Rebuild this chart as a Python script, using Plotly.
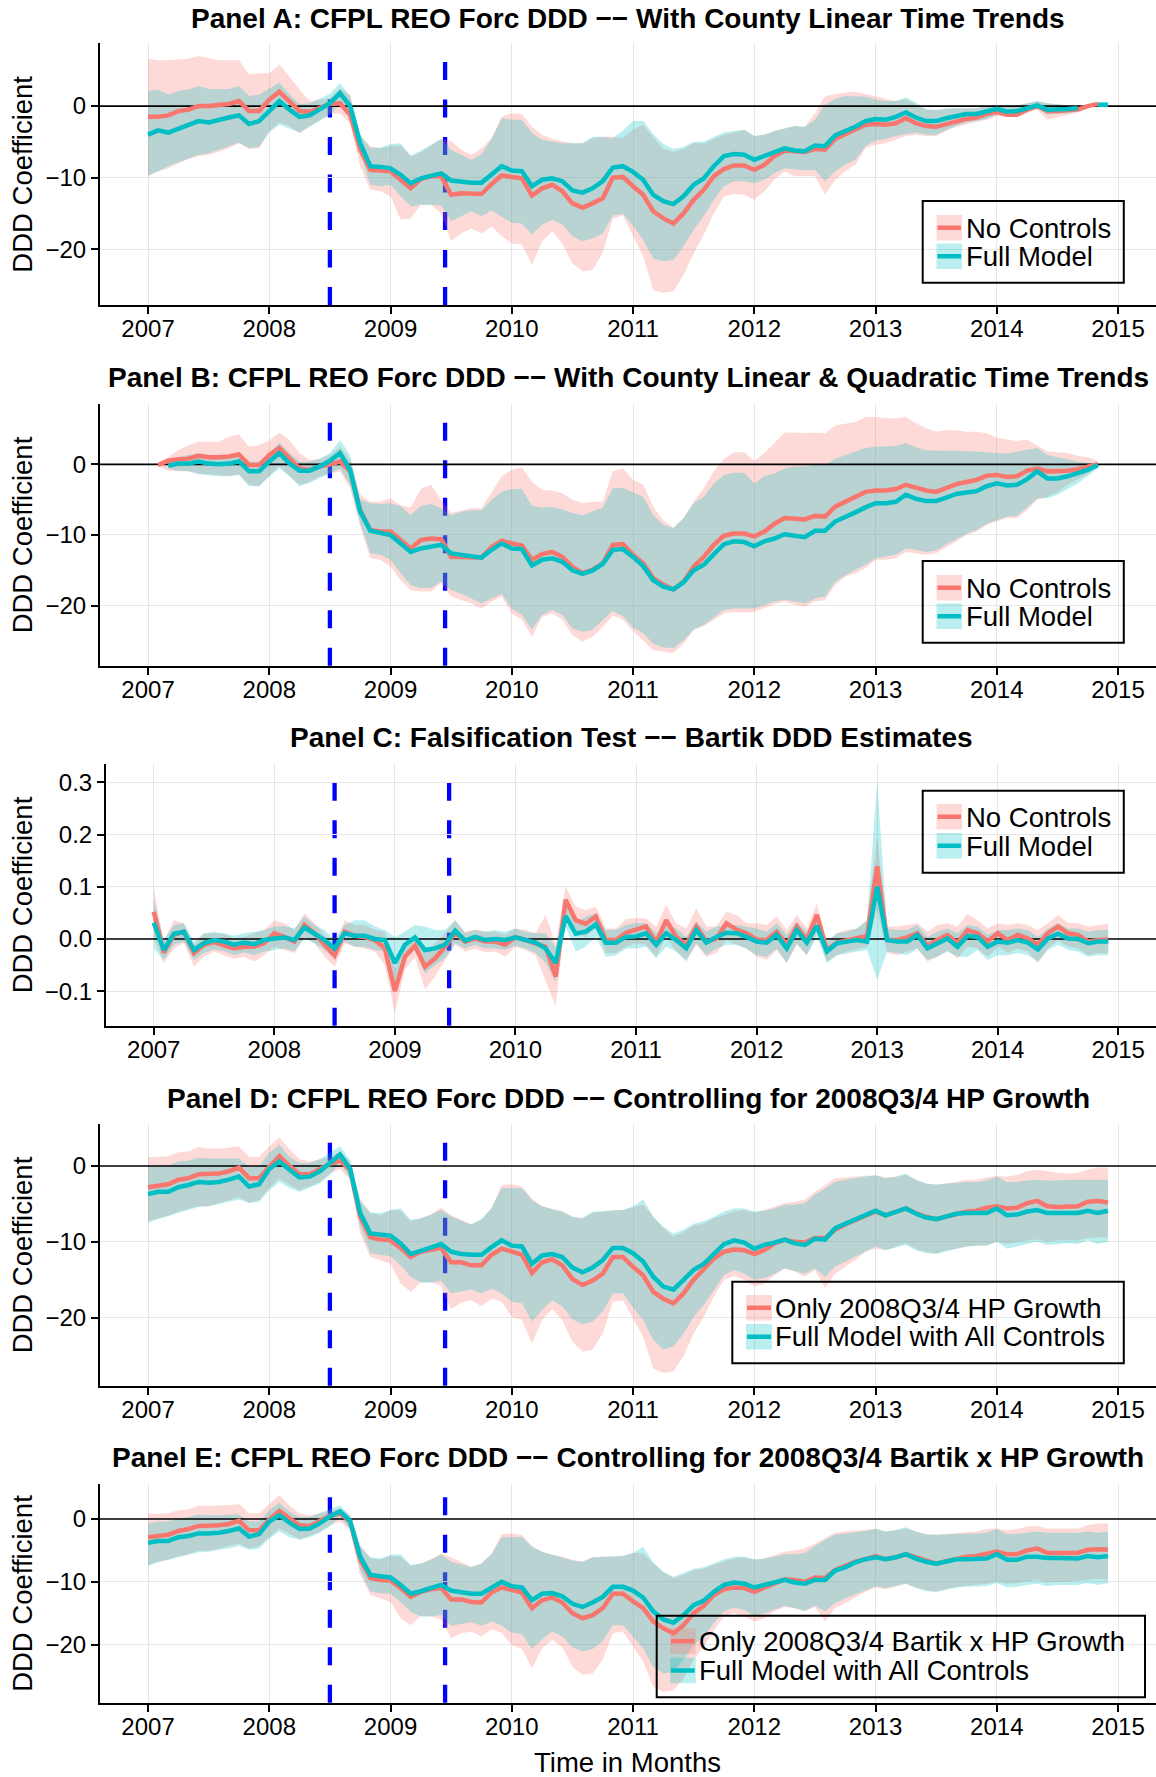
import plotly.graph_objects as go

W, H = 1156, 1777
FONT = "Liberation Sans"
RED = "#F8766D"
CYAN = "#00BFC4"
RED_FILL = "rgba(248,118,109,0.27)"
CYAN_FILL = "rgba(0,191,196,0.27)"

N_MONTHS = 96
x_dates = [2007 + m / 12 for m in range(N_MONTHS)]
x_ticks = list(range(2007, 2016))
x_ticklabels = [str(y) for y in x_ticks]
event_lines = [2008.5, 2009.45]
X_RANGE = [2006.604, 2015.313]
REFERENCE_LEVEL = 0

# ---------------- Panel A ----------------
A_red = [-1.5, -1.5, -1.3, -0.7, -0.5, 0.0, 0.0, 0.1, 0.3, 0.7, -0.7, -0.7, 0.9,
         2.0, 0.6, -0.7, -0.8, -0.3, 0.3, 0.4, -1.2, -6.1, -8.9, -9.0, -9.1,
         -10.3, -11.5, -10.2, -9.8, -9.8, -12.4, -12.2, -12.3, -12.3, -10.9, -9.7, -9.9,
         -10.1, -12.5, -11.5, -11.0, -11.9, -13.6, -14.2, -13.6, -12.9, -10.0, -9.9, -11.2,
         -12.4, -14.7, -15.7, -16.4, -15.0, -13.1, -11.7, -9.8, -8.8, -8.3, -8.3, -8.9,
         -8.2, -7.0, -6.2, -6.3, -6.4, -6.0, -6.1, -4.6, -3.9, -3.2, -2.6, -2.5,
         -2.6, -2.4, -1.7, -2.4, -2.8, -2.9, -2.5, -2.1, -1.8, -1.6, -1.1, -0.8,
         -1.2, -1.2, -0.5, 0.0, -0.7, -0.7, -0.6, -0.5, 0.0, 0.3, None]
A_cyan = [-4.0, -3.4, -3.7, -3.2, -2.7, -2.1, -2.3, -1.9, -1.6, -1.3, -2.5, -2.1, -0.6,
          0.7, -0.5, -1.5, -1.3, -0.5, 0.4, 1.8, 0.0, -5.2, -8.4, -8.5, -8.7,
          -9.6, -10.8, -10.1, -9.7, -9.4, -10.4, -10.6, -10.7, -10.7, -9.6, -8.4, -9.0,
          -9.1, -11.2, -10.3, -10.1, -10.5, -11.8, -12.1, -11.5, -10.5, -8.6, -8.4, -9.2,
          -10.3, -12.4, -13.3, -13.7, -12.6, -11.0, -10.1, -8.4, -7.0, -6.7, -6.8, -7.5,
          -7.0, -6.5, -5.9, -6.2, -6.3, -5.5, -5.6, -4.1, -3.5, -2.9, -2.1, -1.8,
          -1.9, -1.5, -0.9, -1.6, -2.1, -2.1, -1.7, -1.4, -1.1, -1.1, -0.7, -0.4,
          -0.8, -0.7, -0.3, 0.1, -0.5, -0.5, -0.4, -0.3, None, 0.2, 0.2]
A_red_hi = [6.6, 6.4, 6.4, 6.5, 6.6, 7.0, 6.7, 6.4, 6.4, 6.4, 4.4, 4.6, 4.6,
            5.8, 4.1, 2.3, 0.7, 0.9, 1.1, 2.5, 1.5, -4.2, -5.6, -5.9, -5.6,
            -5.5, -7.0, -6.5, -5.6, -4.6, -4.9, -6.1, -6.8, -5.9, -4.5, -1.5, -1.0,
            -1.1, -2.9, -4.0, -4.6, -4.9, -5.2, -5.2, -4.5, -4.3, -4.3, -4.5, -3.3,
            -2.6, -4.4, -6.0, -6.4, -6.0, -5.2, -5.2, -4.6, -4.0, -3.7, -3.3, -4.2,
            -4.0, -3.5, -3.1, -2.8, -2.9, -1.0, 1.4, 1.7, 1.9, 2.0, 1.7, 1.3,
            1.0, 0.7, 0.9, 0.2, -0.5, -0.6, -0.4, -0.3, -0.3, -0.3, 0.0, 0.1,
            0.0, 0.1, 0.4, 0.7, 0.4, 0.2, 0.1, 0.0, 0.2, 0.4, None]
A_red_lo = [-9.8, -9.1, -8.7, -8.0, -7.4, -7.0, -6.8, -6.4, -5.9, -5.2, -6.0, -5.9, -3.5,
            -2.3, -2.8, -3.8, -2.8, -1.9, -1.1, -1.0, -2.4, -8.4, -11.7, -11.9, -12.6,
            -15.9, -15.7, -13.8, -13.8, -15.0, -18.9, -17.8, -17.1, -17.8, -16.8, -18.2, -19.2,
            -19.3, -22.2, -18.9, -17.5, -19.2, -22.0, -23.1, -22.9, -20.5, -15.7, -15.3, -18.1,
            -21.0, -25.7, -26.1, -25.9, -23.6, -20.6, -18.0, -15.0, -12.6, -12.3, -12.4, -13.1,
            -11.9, -10.3, -9.1, -9.8, -9.8, -9.8, -12.4, -10.3, -9.1, -8.2, -5.9, -5.4,
            -5.2, -4.7, -4.2, -4.0, -4.2, -4.2, -3.5, -2.9, -2.5, -2.2, -1.9, -1.4,
            -1.5, -1.4, -0.9, -0.5, -1.9, -1.5, -1.2, -0.9, -0.3, 0.1, None]
A_cyan_hi = [2.1, 2.3, 1.6, 2.1, 2.3, 2.8, 2.4, 2.4, 2.4, 2.8, 1.4, 1.6, 2.4,
             3.3, 1.6, 0.3, 0.4, 1.0, 1.7, 3.2, 1.4, -3.9, -5.9, -5.8, -5.3,
             -5.2, -6.9, -6.2, -5.4, -4.6, -6.1, -6.8, -7.5, -6.7, -4.6, -1.7, -1.9,
             -1.9, -3.8, -4.7, -4.9, -5.2, -5.2, -5.2, -4.3, -4.3, -4.5, -3.4, -2.1,
             -2.1, -3.9, -5.3, -6.0, -5.7, -5.0, -5.0, -4.3, -3.7, -3.5, -3.3, -4.2,
             -4.0, -3.5, -3.1, -2.8, -2.9, -1.9, 0.2, 1.0, 1.4, 1.4, 1.3, 0.9,
             0.7, 0.7, 1.2, 0.5, -0.4, -0.5, -0.3, -0.3, -0.3, -0.3, 0.0, 0.1,
             0.0, 0.1, 0.4, 0.7, 0.4, 0.2, 0.1, 0.0, None, 0.5, 0.5]
A_cyan_lo = [-9.7, -9.1, -8.4, -7.9, -7.3, -6.8, -6.6, -6.1, -5.6, -5.1, -5.9, -5.7, -3.7,
             -2.6, -3.2, -3.7, -2.9, -2.1, -1.2, 0.4, -1.7, -6.6, -11.0, -11.2, -11.0,
             -12.6, -14.0, -13.8, -13.8, -13.9, -16.1, -15.4, -14.7, -15.4, -14.6, -15.4, -16.3,
             -16.4, -18.0, -16.6, -15.9, -16.6, -18.2, -18.9, -18.5, -17.8, -15.3, -15.1, -16.7,
             -18.7, -21.3, -21.7, -21.5, -19.6, -17.3, -15.4, -13.1, -11.2, -10.5, -10.5, -10.8,
             -10.3, -9.4, -8.7, -8.9, -9.0, -8.9, -10.5, -9.1, -8.2, -7.5, -5.6, -4.8,
             -4.6, -4.2, -3.9, -3.7, -4.0, -4.0, -3.3, -2.8, -2.3, -2.1, -1.8, -1.2,
             -1.4, -1.2, -0.7, -0.3, -1.2, -1.1, -1.0, -0.7, None, -0.1, -0.1]

# ---------------- Panel B ----------------
B_red = [None,
         -0.1, 0.5, 0.7, 0.8, 1.2, 1.0, 1.0, 1.1, 1.4, -0.1, -0.1, 1.3,
         2.3, 0.8, -0.6, -0.8, -0.3, 0.0, 0.4, -1.0, -6.5, -9.3, -9.5, -9.5,
         -10.7, -11.9, -10.7, -10.5, -10.6, -13.1, -13.1, -13.2, -13.2, -11.7, -10.8, -11.2,
         -11.5, -13.5, -12.7, -12.4, -13.1, -14.5, -15.4, -14.9, -14.0, -11.4, -11.3, -12.8,
         -14.0, -16.1, -17.0, -17.7, -16.6, -14.5, -13.1, -11.4, -10.1, -9.8, -9.8, -10.2,
         -9.5, -8.4, -7.6, -7.7, -7.8, -7.3, -7.4, -6.0, -5.3, -4.6, -3.9, -3.7,
         -3.7, -3.5, -2.9, -3.3, -3.7, -3.9, -3.3, -2.8, -2.5, -2.2, -1.6, -1.5,
         -1.8, -1.7, -0.9, -0.6, -1.0, -1.0, -0.9, -0.7, -0.4, 0.0, None]
B_cyan = [None, None,
          -0.2, 0.1, 0.1, 0.4, 0.1, 0.0, 0.1, 0.4, -1.0, -1.0, 0.4,
          1.6, 0.1, -0.9, -0.9, -0.3, 0.5, 1.6, -0.8, -6.7, -9.4, -9.7, -10.0,
          -11.2, -12.4, -11.9, -11.7, -11.4, -12.6, -12.8, -13.1, -13.2, -12.1, -11.2, -11.9,
          -12.0, -14.3, -13.5, -13.3, -13.8, -15.0, -15.5, -15.0, -14.1, -12.1, -12.0, -13.1,
          -14.4, -16.4, -17.3, -17.7, -16.7, -15.0, -14.2, -12.7, -11.3, -10.9, -11.0, -11.6,
          -10.9, -10.5, -9.9, -10.1, -10.3, -9.4, -9.4, -8.1, -7.5, -6.8, -6.1, -5.5,
          -5.5, -5.3, -4.3, -4.9, -5.2, -5.2, -4.7, -4.2, -4.0, -3.8, -3.1, -2.7,
          -3.0, -2.9, -2.1, -1.0, -2.0, -2.0, -1.7, -1.2, -0.8, -0.1, None]
B_red_hi = [None,
            0.1, 1.0, 2.0, 2.7, 3.2, 3.2, 3.2, 3.9, 4.2, 2.5, 2.7, 3.4,
            4.5, 3.4, 1.6, 0.6, 0.8, 1.3, 2.5, 0.6, -4.3, -5.3, -5.3, -4.8,
            -5.8, -6.1, -3.5, -2.9, -5.0, -6.9, -6.5, -6.2, -6.2, -3.9, -1.7, -0.8,
            -0.4, -2.5, -3.6, -3.7, -4.1, -5.0, -5.5, -5.3, -5.3, -1.0, -0.6, -2.2,
            -2.9, -6.0, -7.9, -9.0, -7.6, -5.3, -3.4, -1.0, 0.8, 1.7, 1.7, 0.5,
            1.6, 3.0, 4.5, 4.5, 4.4, 4.5, 4.4, 5.5, 5.7, 6.0, 6.7, 6.7,
            6.5, 6.5, 6.7, 5.8, 5.1, 4.6, 4.8, 4.8, 4.6, 4.6, 4.4, 3.8,
            3.5, 3.3, 3.5, 2.7, 1.8, 1.7, 1.6, 1.2, 1.0, 0.5, None]
B_red_lo = [None,
            -0.3, -0.9, -1.0, -1.0, -1.3, -1.4, -1.5, -1.7, -1.4, -2.9, -3.1, -1.7,
            -0.2, -1.7, -2.9, -2.5, -1.7, -1.3, -1.0, -3.4, -8.8, -13.3, -13.5, -14.5,
            -16.4, -17.8, -18.0, -18.0, -16.8, -18.7, -19.2, -19.7, -20.4, -19.4, -18.7, -21.1,
            -22.0, -24.4, -21.6, -21.1, -22.0, -24.2, -25.1, -24.4, -23.0, -21.4, -22.0, -23.6,
            -24.9, -26.3, -26.5, -26.7, -25.4, -23.4, -22.9, -22.0, -21.1, -20.9, -21.0, -20.9,
            -20.4, -19.8, -19.4, -19.9, -20.1, -19.4, -19.2, -17.1, -15.9, -15.4, -14.7, -13.5,
            -13.5, -13.3, -12.4, -12.6, -12.8, -12.6, -11.7, -10.9, -10.0, -9.5, -8.6, -8.1,
            -7.6, -7.6, -6.5, -5.0, -4.6, -3.9, -2.9, -2.2, -1.4, -0.3, None]
B_cyan_hi = [None, None,
             0.4, 1.0, 1.3, 1.6, 1.3, 1.2, 1.2, 1.5, 0.4, 0.4, 1.6,
             3.1, 1.6, 0.4, 0.4, 0.8, 1.6, 3.4, 1.3, -5.0, -5.5, -5.6, -5.5,
             -5.9, -7.2, -5.9, -5.6, -6.2, -7.2, -6.7, -6.5, -6.5, -5.0, -3.9, -3.5,
             -3.5, -5.9, -6.1, -6.0, -6.4, -6.9, -7.2, -6.7, -6.1, -3.4, -3.3, -4.0,
             -4.6, -7.2, -8.6, -9.0, -7.6, -5.5, -4.6, -2.7, -1.5, -1.2, -1.2, -2.7,
             -1.7, -1.3, -0.6, -0.3, -0.3, -0.1, -0.1, 0.8, 1.3, 1.8, 2.3, 2.5,
             2.5, 2.6, 3.0, 2.4, 2.0, 1.9, 1.9, 1.9, 1.9, 1.8, 1.7, 1.6,
             1.5, 1.8, 2.0, 2.3, 1.3, 1.0, 0.6, 0.4, 0.2, 0.2, None]
B_cyan_lo = [None, None,
             -0.6, -0.9, -1.0, -1.4, -1.5, -1.7, -1.7, -1.5, -3.1, -3.1, -1.7,
             -0.6, -1.7, -3.1, -2.6, -2.0, -1.3, -0.6, -2.9, -8.3, -12.6, -12.8, -13.5,
             -15.4, -17.1, -17.5, -17.5, -16.6, -17.8, -18.3, -19.0, -19.7, -19.0, -18.3, -20.4,
             -21.3, -23.4, -21.3, -20.6, -21.3, -23.2, -23.7, -23.4, -22.0, -20.7, -21.5, -23.1,
             -23.9, -25.4, -25.9, -26.0, -24.9, -23.4, -22.7, -21.6, -20.6, -20.4, -20.4, -20.4,
             -19.9, -19.4, -19.2, -19.4, -19.7, -19.0, -18.7, -16.6, -15.7, -14.9, -14.2, -13.3,
             -13.1, -12.8, -11.9, -12.1, -12.4, -12.2, -11.3, -10.6, -9.8, -9.3, -8.4, -7.9,
             -7.4, -7.3, -6.1, -4.8, -4.8, -4.3, -3.5, -2.7, -1.7, -0.6, None]

# ---------------- Panel C ----------------
C_red = [0.052, -0.026, 0.008, 0.014, -0.027, -0.011, -0.006, -0.011, -0.018, -0.015, -0.015, -0.008, 0.011,
         0.004, -0.005, 0.027, 0.011, -0.011, -0.032, 0.014, 0.006, 0.004, -0.002, -0.018, -0.100,
         -0.034, -0.013, -0.053, -0.037, -0.015, 0.012, -0.005, 0.001, -0.005, -0.005, -0.011, 0.004,
         -0.002, -0.008, -0.015, -0.072, 0.075, 0.036, 0.029, 0.043, -0.002, -0.002, 0.012, 0.018,
         0.024, -0.007, 0.036, 0.004, -0.011, 0.024, -0.005, 0.001, 0.030, 0.018, 0.011, -0.001,
         -0.002, 0.014, -0.011, 0.024, -0.002, 0.046, -0.021, -0.007, -0.002, 0.001, 0.006, 0.139,
         -0.002, -0.002, 0.003, 0.011, -0.013, -0.002, 0.008, -0.007, 0.017, 0.011, -0.005, 0.011,
         -0.002, 0.008, 0.001, -0.011, 0.011, 0.024, 0.011, 0.008, -0.005, -0.002, -0.001]
C_cyan = [0.031, -0.021, 0.010, 0.014, -0.021, -0.008, -0.002, -0.005, -0.011, -0.007, -0.010, -0.002, 0.001,
          0.003, -0.002, 0.022, 0.010, -0.002, -0.018, 0.011, 0.006, 0.006, 0.000, -0.002, -0.046,
          -0.011, 0.003, -0.021, -0.018, -0.011, 0.016, -0.003, 0.004, -0.002, 0.000, -0.002, 0.003,
          -0.002, -0.007, -0.018, -0.046, 0.044, 0.010, 0.014, 0.028, -0.007, -0.007, 0.004, 0.005,
          0.011, -0.011, 0.011, -0.002, -0.018, 0.017, -0.007, 0.004, 0.012, 0.011, 0.004, -0.005,
          -0.007, 0.008, -0.018, 0.017, -0.007, 0.025, -0.024, -0.008, -0.005, -0.002, -0.005, 0.100,
          -0.002, -0.005, -0.005, 0.008, -0.018, -0.008, 0.001, -0.015, 0.006, 0.004, -0.015, -0.005,
          -0.007, -0.002, -0.007, -0.020, 0.001, 0.010, 0.001, 0.000, -0.008, -0.005, -0.005]
C_red_hi = [0.097, -0.005, 0.036, 0.030, -0.011, 0.010, 0.011, 0.010, 0.001, 0.004, 0.011, 0.017, 0.036,
            0.030, 0.017, 0.049, 0.030, 0.008, -0.011, 0.036, 0.027, 0.027, 0.017, 0.014, -0.059,
            -0.011, 0.008, -0.024, -0.008, 0.011, 0.036, 0.014, 0.018, 0.014, 0.014, 0.008, 0.020,
            0.017, 0.011, 0.046, -0.011, 0.101, 0.062, 0.055, 0.062, 0.020, 0.020, 0.038, 0.040,
            0.039, 0.024, 0.065, 0.030, 0.020, 0.059, 0.024, 0.024, 0.052, 0.046, 0.030, 0.030,
            0.027, 0.043, 0.017, 0.046, 0.020, 0.068, -0.005, 0.011, 0.017, 0.020, 0.036, 0.196,
            0.024, 0.024, 0.027, 0.030, 0.014, 0.027, 0.030, 0.024, 0.048, 0.036, 0.020, 0.030,
            0.027, 0.030, 0.027, 0.017, 0.030, 0.046, 0.031, 0.030, 0.024, 0.027, 0.029]
C_red_lo = [0.004, -0.046, -0.018, -0.007, -0.053, -0.034, -0.024, -0.031, -0.038, -0.034, -0.043, -0.031, -0.015,
            -0.021, -0.027, 0.004, -0.008, -0.034, -0.053, -0.008, -0.015, -0.018, -0.024, -0.050, -0.142,
            -0.059, -0.035, -0.097, -0.072, -0.040, -0.011, -0.024, -0.018, -0.026, -0.024, -0.034, -0.015,
            -0.021, -0.031, -0.078, -0.129, 0.046, 0.011, 0.004, 0.020, -0.027, -0.027, -0.015, -0.008,
            -0.011, -0.034, 0.004, -0.024, -0.040, -0.011, -0.034, -0.027, -0.002, -0.011, -0.018, -0.034,
            -0.040, -0.021, -0.046, -0.011, -0.031, 0.011, -0.043, -0.031, -0.024, -0.020, -0.015, 0.055,
            -0.027, -0.031, -0.024, -0.018, -0.043, -0.034, -0.021, -0.037, -0.015, -0.018, -0.034, -0.015,
            -0.027, -0.018, -0.024, -0.046, -0.018, -0.002, -0.015, -0.018, -0.031, -0.027, -0.027]
C_cyan_hi = [0.075, -0.002, 0.027, 0.030, -0.005, 0.011, 0.014, 0.011, 0.006, 0.011, 0.014, 0.017, 0.024,
             0.025, 0.020, 0.043, 0.027, 0.017, -0.002, 0.027, 0.036, 0.036, 0.024, 0.017, 0.004,
             0.014, 0.027, 0.024, 0.017, 0.017, 0.036, 0.011, 0.017, 0.014, 0.017, 0.014, 0.020,
             0.014, 0.011, 0.011, -0.015, 0.075, 0.030, 0.043, 0.049, 0.017, 0.017, 0.027, 0.030,
             0.030, 0.011, 0.030, 0.020, 0.004, 0.033, 0.014, 0.024, 0.027, 0.027, 0.024, 0.020,
             0.014, 0.030, 0.008, 0.033, 0.014, 0.043, -0.005, 0.011, 0.014, 0.020, 0.036, 0.301,
             0.020, 0.017, 0.017, 0.027, 0.004, 0.014, 0.020, 0.011, 0.027, 0.024, 0.008, 0.017,
             0.017, 0.020, 0.017, 0.004, 0.020, 0.030, 0.020, 0.020, 0.014, 0.017, 0.017]
C_cyan_lo = [-0.018, -0.040, -0.011, -0.005, -0.040, -0.027, -0.020, -0.023, -0.031, -0.026, -0.031, -0.024, -0.021,
             -0.018, -0.024, 0.001, -0.008, -0.021, -0.037, -0.005, -0.015, -0.015, -0.021, -0.024, -0.097,
             -0.037, -0.021, -0.066, -0.050, -0.037, -0.008, -0.018, -0.011, -0.018, -0.018, -0.021, -0.013,
             -0.018, -0.027, -0.046, -0.082, 0.024, -0.024, -0.015, 0.004, -0.034, -0.031, -0.018, -0.018,
             -0.015, -0.037, -0.015, -0.024, -0.043, -0.008, -0.031, -0.018, -0.011, -0.011, -0.018, -0.031,
             -0.034, -0.018, -0.046, -0.008, -0.031, 0.004, -0.046, -0.031, -0.027, -0.024, -0.021, -0.078,
             -0.024, -0.027, -0.031, -0.018, -0.040, -0.034, -0.024, -0.034, -0.034, -0.021, -0.040, -0.031,
             -0.031, -0.027, -0.031, -0.043, -0.021, -0.011, -0.021, -0.024, -0.034, -0.031, -0.031]

# ---------------- Panel D ----------------
D_red = [-2.8, -2.6, -2.4, -1.8, -1.6, -1.1, -1.1, -1.0, -0.7, -0.2, -1.6, -1.6, -0.1,
         1.3, 0.0, -1.1, -1.1, -0.4, 0.3, 0.7, -0.5, -6.7, -9.4, -9.7, -9.8,
         -10.8, -12.0, -11.3, -11.0, -10.8, -12.7, -12.7, -13.1, -13.1, -11.7, -10.9, -11.3,
         -11.7, -14.1, -12.7, -12.3, -13.1, -14.9, -15.7, -15.1, -14.2, -12.0, -12.0, -13.3,
         -14.4, -16.6, -17.5, -18.1, -16.8, -15.0, -13.7, -12.2, -11.3, -11.0, -11.1, -11.6,
         -11.1, -10.2, -9.7, -10.0, -10.1, -9.5, -9.5, -8.4, -7.7, -7.1, -6.6, -6.0,
         -6.5, -6.1, -5.6, -6.2, -6.7, -7.0, -6.7, -6.3, -6.0, -5.9, -5.5, -5.3,
         -5.6, -5.5, -4.9, -4.6, -5.3, -5.4, -5.4, -5.3, -4.7, -4.6, -4.8]
D_cyan = [-3.7, -3.4, -3.4, -2.8, -2.5, -2.1, -2.2, -2.1, -1.8, -1.4, -2.7, -2.4, -0.4,
          0.6, -0.5, -1.5, -1.4, -0.7, 0.4, 1.5, -0.4, -6.2, -8.9, -9.0, -9.2,
          -10.2, -11.6, -11.2, -10.7, -10.3, -11.3, -11.6, -11.7, -11.7, -10.7, -9.8, -10.5,
          -10.6, -12.9, -11.8, -11.6, -12.0, -13.4, -14.0, -13.4, -12.4, -10.8, -10.8, -11.5,
          -12.6, -14.6, -15.9, -16.3, -15.0, -13.7, -12.9, -11.5, -10.3, -9.8, -10.1, -10.9,
          -10.4, -10.1, -9.7, -10.2, -10.4, -9.6, -9.7, -8.2, -7.6, -7.0, -6.5, -5.9,
          -6.5, -6.0, -5.6, -6.3, -6.8, -7.0, -6.7, -6.3, -6.2, -6.2, -6.2, -5.6,
          -6.5, -6.4, -6.0, -5.8, -6.2, -6.2, -6.2, -6.2, -5.9, -6.2, -5.9]
D_red_hi = [1.2, 1.2, 1.3, 1.8, 1.9, 2.5, 2.3, 2.3, 2.4, 2.6, 1.2, 1.2, 2.6,
            3.8, 2.2, 0.9, 0.6, 0.9, 1.2, 1.9, 0.6, -4.3, -6.2, -6.5, -5.8,
            -5.9, -7.3, -6.9, -6.4, -5.5, -6.5, -7.1, -7.7, -7.1, -5.6, -2.5, -2.4,
            -2.7, -4.3, -5.3, -5.7, -6.0, -6.7, -6.9, -6.2, -6.0, -5.8, -5.8, -5.5,
            -5.1, -6.7, -8.2, -9.3, -8.7, -7.8, -7.6, -6.9, -6.5, -6.0, -5.8, -6.2,
            -5.8, -5.4, -4.9, -4.7, -4.4, -3.4, -2.5, -1.6, -1.5, -1.4, -1.3, -1.3,
            -1.5, -1.4, -1.2, -1.8, -2.3, -2.5, -2.3, -2.1, -1.8, -1.8, -1.5, -1.3,
            -1.4, -1.2, -0.7, -0.5, -0.7, -0.9, -1.0, -0.9, -0.5, -0.2, -0.2]
D_red_lo = [-7.3, -6.9, -6.6, -6.0, -5.7, -5.3, -5.3, -4.9, -4.5, -4.1, -4.8, -4.5, -2.9,
            -1.6, -2.5, -3.2, -2.7, -2.1, -1.0, -0.4, -1.8, -8.9, -12.0, -12.4, -12.9,
            -15.5, -16.6, -15.3, -15.3, -15.8, -18.9, -18.0, -17.7, -18.5, -17.5, -17.9, -19.9,
            -20.3, -23.4, -20.3, -18.9, -20.3, -23.2, -24.5, -24.2, -22.1, -17.9, -17.7, -20.1,
            -22.5, -26.7, -27.3, -27.1, -25.1, -22.1, -19.9, -17.2, -15.0, -14.5, -15.0, -15.9,
            -15.5, -14.4, -13.5, -13.9, -14.6, -13.7, -16.1, -14.2, -13.3, -12.4, -11.3, -10.9,
            -11.1, -10.6, -10.2, -10.9, -11.3, -11.5, -11.1, -10.9, -10.6, -10.5, -10.4, -10.0,
            -10.3, -10.1, -9.8, -9.7, -10.0, -9.8, -9.8, -9.8, -9.5, -9.4, -9.5]
D_cyan_hi = [0.0, 0.1, 0.1, 0.6, 0.7, 1.1, 1.0, 1.0, 1.0, 1.0, -0.1, 0.0, 1.7,
             2.8, 1.2, 0.4, 0.4, 0.9, 1.7, 2.6, 0.8, -4.7, -6.1, -6.2, -5.8,
             -5.6, -7.1, -6.9, -6.4, -5.8, -6.7, -7.2, -7.7, -7.0, -5.5, -2.9, -2.9,
             -2.9, -4.5, -5.3, -5.7, -6.0, -6.7, -6.9, -6.0, -6.0, -5.9, -5.8, -5.3,
             -4.4, -6.7, -8.0, -8.9, -8.4, -7.6, -7.3, -6.7, -6.0, -5.6, -5.6, -6.0,
             -5.9, -5.6, -5.1, -5.1, -4.9, -3.8, -2.9, -2.1, -1.8, -1.6, -1.4, -1.2,
             -1.6, -1.4, -1.0, -1.8, -2.3, -2.4, -2.3, -2.2, -2.1, -2.1, -1.9, -1.4,
             -2.1, -2.1, -1.9, -1.8, -1.9, -1.9, -1.8, -1.8, -1.8, -1.8, -1.8]
D_cyan_lo = [-7.5, -7.0, -6.7, -6.2, -5.8, -5.4, -5.3, -5.0, -4.7, -4.4, -4.9, -4.7, -3.2,
             -2.1, -2.9, -3.4, -2.9, -2.3, -1.2, 0.4, -1.6, -8.0, -11.5, -11.7, -11.9,
             -13.1, -14.6, -15.4, -15.4, -15.1, -16.8, -16.6, -16.3, -16.8, -16.2, -16.8, -17.9,
             -18.1, -20.5, -19.0, -17.7, -18.5, -20.2, -20.9, -20.5, -19.2, -16.8, -16.8, -18.7,
             -20.3, -22.9, -24.2, -23.8, -22.1, -19.9, -18.3, -16.4, -14.4, -13.7, -14.2, -15.0,
             -14.8, -14.2, -13.5, -13.9, -14.2, -13.5, -14.6, -13.3, -12.6, -12.0, -11.3, -10.6,
             -11.1, -10.7, -10.4, -11.1, -11.5, -11.6, -11.3, -10.9, -10.6, -10.5, -10.5, -10.0,
             -10.9, -10.6, -10.3, -10.0, -10.4, -10.3, -10.2, -10.3, -9.8, -10.3, -10.0]

# ---------------- Panel E ----------------
E_red = [-2.9, -2.7, -2.5, -1.9, -1.6, -1.1, -1.1, -1.0, -0.8, -0.3, -1.8, -1.8, -0.1,
         1.3, 0.1, -1.0, -1.1, -0.3, 0.5, 0.9, -0.4, -6.5, -9.4, -9.7, -9.8,
         -11.0, -12.4, -11.6, -11.2, -11.0, -12.8, -12.8, -13.2, -13.3, -11.7, -10.9, -11.3,
         -11.7, -14.2, -12.9, -12.5, -13.3, -15.0, -15.8, -15.3, -14.2, -11.9, -11.9, -13.1,
         -14.2, -16.3, -17.4, -18.2, -16.9, -15.0, -13.8, -12.1, -11.2, -10.9, -11.0, -11.6,
         -10.9, -10.2, -9.6, -9.7, -10.0, -9.3, -9.4, -8.1, -7.5, -6.8, -6.4, -5.9,
         -6.4, -6.1, -5.6, -6.1, -6.7, -7.1, -6.7, -6.3, -6.0, -5.9, -5.5, -5.2,
         -5.6, -5.6, -5.0, -4.7, -5.4, -5.4, -5.4, -5.4, -4.9, -4.8, -4.9]
E_cyan = [-3.8, -3.5, -3.5, -2.9, -2.7, -2.3, -2.3, -2.2, -1.9, -1.5, -2.8, -2.4, -0.4,
          0.6, -0.6, -1.6, -1.5, -0.7, 0.4, 1.2, -0.3, -6.0, -8.9, -9.1, -9.3,
          -10.5, -11.9, -11.5, -11.0, -10.5, -11.4, -11.7, -11.9, -11.9, -10.9, -10.0, -10.7,
          -10.9, -12.9, -11.9, -11.8, -12.3, -13.5, -14.0, -13.3, -12.4, -10.8, -10.8, -11.4,
          -12.5, -14.7, -16.0, -16.5, -15.3, -13.7, -13.0, -11.6, -10.5, -10.1, -10.3, -10.9,
          -10.5, -10.2, -9.7, -10.1, -10.3, -9.7, -9.7, -8.2, -7.7, -6.9, -6.4, -6.1,
          -6.4, -6.1, -5.6, -6.3, -6.8, -7.1, -6.7, -6.4, -6.4, -6.3, -6.3, -5.6,
          -6.5, -6.5, -6.0, -6.0, -6.2, -6.2, -6.2, -6.3, -5.9, -6.1, -5.9]
E_red_hi = [0.9, 0.8, 0.9, 1.4, 1.5, 2.1, 2.1, 2.1, 2.2, 2.4, 0.9, 0.9, 2.4,
            3.8, 2.1, 0.9, 0.5, 0.9, 1.2, 1.7, 0.6, -4.1, -6.3, -6.5, -5.9,
            -6.0, -7.5, -7.1, -6.4, -5.5, -6.1, -6.8, -7.6, -7.1, -5.5, -2.4, -2.3,
            -2.5, -4.3, -5.2, -5.7, -6.0, -6.5, -6.8, -6.1, -6.0, -5.9, -5.9, -5.4,
            -5.5, -7.1, -8.5, -9.4, -8.9, -8.1, -7.9, -7.3, -6.8, -6.3, -6.1, -6.5,
            -6.3, -5.7, -5.2, -5.0, -4.7, -3.9, -3.1, -2.2, -2.0, -1.9, -1.8, -1.6,
            -2.0, -1.8, -1.5, -2.0, -2.4, -2.5, -2.4, -2.3, -2.2, -2.0, -1.6, -1.5,
            -1.8, -1.6, -1.2, -1.1, -1.5, -1.5, -1.6, -1.5, -1.0, -0.7, -0.7]
E_red_lo = [-7.3, -6.8, -6.5, -5.9, -5.6, -5.0, -5.1, -4.7, -4.3, -3.9, -4.7, -4.3, -2.9,
            -1.5, -2.4, -3.2, -2.7, -2.0, -1.0, -0.4, -1.8, -8.9, -12.1, -12.6, -13.2,
            -15.8, -16.9, -15.4, -15.5, -16.0, -19.0, -18.2, -17.9, -18.7, -17.6, -18.1, -20.1,
            -20.6, -23.8, -20.6, -19.2, -20.4, -23.5, -24.8, -24.6, -22.4, -18.2, -17.9, -20.4,
            -22.7, -26.7, -27.5, -27.3, -25.4, -22.4, -20.3, -17.7, -15.5, -15.0, -15.5, -16.3,
            -15.8, -14.7, -14.0, -14.2, -14.7, -14.0, -16.3, -14.2, -13.4, -12.5, -11.6, -10.9,
            -11.2, -10.7, -10.3, -10.9, -11.3, -11.6, -11.2, -10.8, -10.7, -10.5, -10.3, -10.0,
            -10.3, -10.2, -10.0, -9.7, -10.1, -10.0, -10.0, -9.9, -9.7, -9.5, -9.7]
E_cyan_hi = [-0.7, -0.4, -0.4, 0.1, 0.3, 0.7, 0.6, 0.6, 0.6, 0.7, -0.4, -0.3, 1.4,
             2.6, 1.2, 0.3, 0.3, 0.9, 1.5, 2.2, 0.6, -4.4, -6.1, -6.3, -5.7,
             -5.6, -7.3, -7.1, -6.5, -5.7, -6.8, -7.3, -7.7, -7.1, -5.6, -2.9, -2.9,
             -2.9, -4.4, -5.2, -5.7, -6.1, -6.6, -6.8, -6.1, -6.0, -5.9, -5.9, -5.4,
             -4.4, -6.9, -8.4, -9.2, -8.6, -7.9, -7.7, -7.1, -6.4, -6.0, -6.0, -6.4,
             -6.3, -6.0, -5.6, -5.6, -5.4, -4.3, -3.3, -2.5, -2.3, -2.0, -1.9, -1.5,
             -2.0, -1.8, -1.3, -2.0, -2.5, -2.5, -2.4, -2.4, -2.3, -2.3, -2.2, -1.6,
             -2.4, -2.4, -2.2, -2.0, -2.2, -2.2, -2.1, -2.2, -2.0, -2.2, -2.0]
E_cyan_lo = [-7.5, -6.9, -6.6, -6.1, -5.7, -5.3, -5.2, -4.9, -4.7, -4.3, -4.9, -4.7, -3.1,
             -2.0, -2.9, -3.3, -2.9, -2.2, -1.2, 0.3, -1.6, -8.1, -11.6, -11.8, -11.9,
             -13.2, -14.8, -15.5, -15.5, -15.3, -17.0, -16.7, -16.4, -17.0, -16.3, -17.0, -18.1,
             -18.3, -20.7, -19.2, -17.9, -18.7, -20.4, -21.1, -20.7, -19.4, -16.9, -16.9, -18.7,
             -20.6, -23.5, -24.6, -24.3, -22.4, -20.1, -18.7, -16.6, -14.7, -14.1, -14.5, -15.4,
             -15.0, -14.4, -13.8, -14.2, -14.6, -13.8, -14.7, -13.4, -12.6, -11.9, -11.3, -10.7,
             -11.0, -10.7, -10.3, -11.0, -11.5, -11.6, -11.3, -10.9, -10.8, -10.7, -10.7, -10.2,
             -10.9, -10.8, -10.5, -10.3, -10.7, -10.5, -10.5, -10.5, -10.2, -10.5, -10.2]


def fx(px):
    return px / W


def fy(py):
    return 1 - py / H


panels = [
    dict(title="Panel A: CFPL REO Forc DDD \u2212\u2212 With County Linear Time Trends",
         red=A_red, cyan=A_cyan, red_hi=A_red_hi, red_lo=A_red_lo, cyan_hi=A_cyan_hi, cyan_lo=A_cyan_lo,
         xpx=(100, 1156), ypx=(43.3, 305), yrange=(-27.8, 8.77), tickvals=[0, -10, -20],
         ticktext=["0", "\u221210", "\u221220"], title_y=18.5,
         legend=dict(box=(922.7, 201, 1123.8, 282.7), keyx=(936.5, 962), textx=963.5,
                     rows=[(215, 240.5, 228.3), (243.5, 269, 256.7)],
                     labels=["No Controls", "Full Model"])),
    dict(title="Panel B: CFPL REO Forc DDD \u2212\u2212 With County Linear & Quadratic Time Trends",
         red=B_red, cyan=B_cyan, red_hi=B_red_hi, red_lo=B_red_lo, cyan_hi=B_cyan_hi, cyan_lo=B_cyan_lo,
         xpx=(100, 1156), ypx=(404, 665.7), yrange=(-28.49, 8.53), tickvals=[0, -10, -20],
         ticktext=["0", "\u221210", "\u221220"], title_y=377.5,
         legend=dict(box=(922.7, 561, 1123.8, 642.7), keyx=(936.5, 962), textx=963.5,
                     rows=[(575, 600.5, 588.3), (603.5, 629, 616.7)],
                     labels=["No Controls", "Full Model"])),
    dict(title="Panel C: Falsification Test \u2212\u2212 Bartik DDD Estimates",
         red=C_red, cyan=C_cyan, red_hi=C_red_hi, red_lo=C_red_lo, cyan_hi=C_cyan_hi, cyan_lo=C_cyan_lo,
         xpx=(106, 1156), ypx=(764, 1025.7), yrange=(-0.166, 0.335), tickvals=[0.3, 0.2, 0.1, 0.0, -0.1],
         ticktext=["0.3", "0.2", "0.1", "0.0", "\u22120.1"], title_y=738,
         legend=dict(box=(922.7, 790.7, 1123.8, 872.7), keyx=(936.5, 962), textx=963.5,
                     rows=[(804, 829.5, 817.3), (833, 858.5, 846)],
                     labels=["No Controls", "Full Model"])),
    dict(title="Panel D: CFPL REO Forc DDD \u2212\u2212 Controlling for 2008Q3/4 HP Growth",
         red=D_red, cyan=D_cyan, red_hi=D_red_hi, red_lo=D_red_lo, cyan_hi=D_cyan_hi, cyan_lo=D_cyan_lo,
         xpx=(100, 1156), ypx=(1124, 1385.7), yrange=(-28.97, 5.54), tickvals=[0, -10, -20],
         ticktext=["0", "\u221210", "\u221220"], title_y=1098.2,
         legend=dict(box=(732.3, 1281.7, 1123.8, 1363.3), keyx=(746, 772), textx=773,
                     rows=[(1295, 1320.5, 1308.3), (1324, 1349.5, 1336.7)],
                     labels=["Only 2008Q3/4 HP Growth", "Full Model with All Controls"])),
    dict(title="Panel E: CFPL REO Forc DDD \u2212\u2212 Controlling for 2008Q3/4 Bartik x HP Growth",
         red=E_red, cyan=E_cyan, red_hi=E_red_hi, red_lo=E_red_lo, cyan_hi=E_cyan_hi, cyan_lo=E_cyan_lo,
         xpx=(100, 1156), ypx=(1484, 1702.7), yrange=(-29.24, 5.57), tickvals=[0, -10, -20],
         ticktext=["0", "\u221210", "\u221220"], title_y=1457.6,
         legend=dict(box=(656.7, 1615.7, 1145, 1697.3), keyx=(670, 695.7), textx=696.7,
                     rows=[(1628.3, 1654, 1641.7), (1657.7, 1683.3, 1670)],
                     labels=["Only 2008Q3/4 Bartik x HP Growth", "Full Model with All Controls"])),
]

for p in panels:
    for k in ("red", "cyan", "red_hi", "red_lo", "cyan_hi", "cyan_lo"):
        if len(p[k]) != N_MONTHS:
            raise ValueError(f"{p['title'][:8]} {k} has {len(p[k])} values")


def segments(lo, hi):
    segs, cur = [], []
    for i in range(N_MONTHS):
        if lo[i] is not None and hi[i] is not None:
            cur.append(i)
        else:
            if cur:
                segs.append(cur)
            cur = []
    if cur:
        segs.append(cur)
    return [s for s in segs if len(s) >= 2]


fig = go.Figure()
shapes = []
annotations = []
layout_axes = {}

tickfont = dict(family=FONT, size=24, color="black")

for i, p in enumerate(panels):
    n = i + 1
    xa = "x" if n == 1 else f"x{n}"
    ya = "y" if n == 1 else f"y{n}"

    # confidence ribbons
    for lo, hi, fill in ((p["red_lo"], p["red_hi"], RED_FILL), (p["cyan_lo"], p["cyan_hi"], CYAN_FILL)):
        for seg in segments(lo, hi):
            xs = [x_dates[j] for j in seg] + [x_dates[j] for j in reversed(seg)]
            ys = [hi[j] for j in seg] + [lo[j] for j in reversed(seg)]
            fig.add_trace(go.Scatter(x=xs, y=ys, mode="lines", fill="toself", fillcolor=fill,
                                     line=dict(width=0), hoverinfo="skip", showlegend=False,
                                     xaxis=xa, yaxis=ya))
    # horizontal reference line at zero (drawn over ribbons, under estimates)
    fig.add_trace(go.Scatter(x=X_RANGE, y=[REFERENCE_LEVEL, REFERENCE_LEVEL], mode="lines",
                             line=dict(color="black", width=1.7), hoverinfo="skip",
                             showlegend=False, xaxis=xa, yaxis=ya))
    # point estimates
    for vals, col in ((p["red"], RED), (p["cyan"], CYAN)):
        fig.add_trace(go.Scatter(x=x_dates, y=vals, mode="lines", line=dict(color=col, width=4.5),
                                 showlegend=False, xaxis=xa, yaxis=ya))

    x0, x1 = p["xpx"]
    yt, yb = p["ypx"]
    layout_axes["xaxis" if n == 1 else f"xaxis{n}"] = dict(
        domain=[fx(x0), fx(x1)], range=X_RANGE, anchor=ya,
        tickmode="array", tickvals=x_ticks, ticktext=x_ticklabels,
        ticks="outside", ticklen=7, tickwidth=2, tickcolor="black",
        showline=True, linecolor="black", linewidth=2,
        showgrid=True, gridcolor="#E6E6E6", gridwidth=1, zeroline=False,
        tickfont=tickfont, ticklabelstandoff=-6, fixedrange=True)
    layout_axes["yaxis" if n == 1 else f"yaxis{n}"] = dict(
        domain=[fy(yb), fy(yt)], range=list(p["yrange"]), anchor=xa,
        tickmode="array", tickvals=p["tickvals"], ticktext=p["ticktext"],
        ticks="outside", ticklen=7, tickwidth=2, tickcolor="black",
        showline=True, linecolor="black", linewidth=2,
        showgrid=True, gridcolor="#E6E6E6", gridwidth=1, zeroline=False,
        tickfont=tickfont, fixedrange=True)

    # event lines
    for v in event_lines:
        shapes.append(dict(type="line", xref=xa, x0=v, x1=v, yref=f"{ya} domain", y0=0, y1=1,
                           line=dict(color="#0000FF", width=4.3, dash="18px,19.5px"), layer="below"))

    # title
    annotations.append(dict(text=f"<b>{p['title']}</b>", xref="paper", yref="paper",
                            x=fx((x0 + x1) / 2), y=fy(p["title_y"]), xanchor="center", yanchor="middle",
                            showarrow=False, font=dict(family=FONT, size=28, color="black")))
    # y title
    annotations.append(dict(text="DDD Coefficient", xref="paper", yref="paper",
                            x=fx(22.5), y=fy((yt + yb) / 2), xanchor="center", yanchor="middle",
                            textangle=-90, showarrow=False,
                            font=dict(family=FONT, size=27.5, color="black")))

    # legend (drawn by hand like ggplot's boxed legend)
    lg = p["legend"]
    bx0, by0, bx1, by1 = lg["box"]
    shapes.append(dict(type="rect", xref="paper", yref="paper", x0=fx(bx0), x1=fx(bx1),
                       y0=fy(by1), y1=fy(by0), line=dict(color="black", width=2),
                       fillcolor="rgba(0,0,0,0)", layer="above"))
    kx0, kx1 = lg["keyx"]
    for (rt, rb, tc), fill, col, lab in zip(lg["rows"], (RED_FILL, CYAN_FILL), (RED, CYAN), lg["labels"]):
        shapes.append(dict(type="rect", xref="paper", yref="paper", x0=fx(kx0), x1=fx(kx1),
                           y0=fy(rb), y1=fy(rt), line=dict(width=0), fillcolor=fill, layer="above"))
        ym = (rt + rb) / 2
        shapes.append(dict(type="line", xref="paper", yref="paper", x0=fx(kx0 + 1), x1=fx(kx1 - 1),
                           y0=fy(ym), y1=fy(ym), line=dict(color=col, width=4.5), layer="above"))
        annotations.append(dict(text=lab, xref="paper", yref="paper", x=fx(lg["textx"]), y=fy(tc),
                                xanchor="left", yanchor="middle", showarrow=False,
                                font=dict(family=FONT, size=27.5, color="black")))

annotations.append(dict(text="Time in Months", xref="paper", yref="paper", x=fx(627), y=fy(1762),
                        xanchor="center", yanchor="middle", showarrow=False,
                        font=dict(family=FONT, size=27.5, color="black")))

fig.update_layout(width=W, height=H, autosize=False, margin=dict(l=0, r=0, t=0, b=0),
                  paper_bgcolor="white", plot_bgcolor="white", showlegend=False,
                  font=dict(family=FONT, color="black"),
                  shapes=shapes, annotations=annotations, **layout_axes)

fig.write_html("out.html")
